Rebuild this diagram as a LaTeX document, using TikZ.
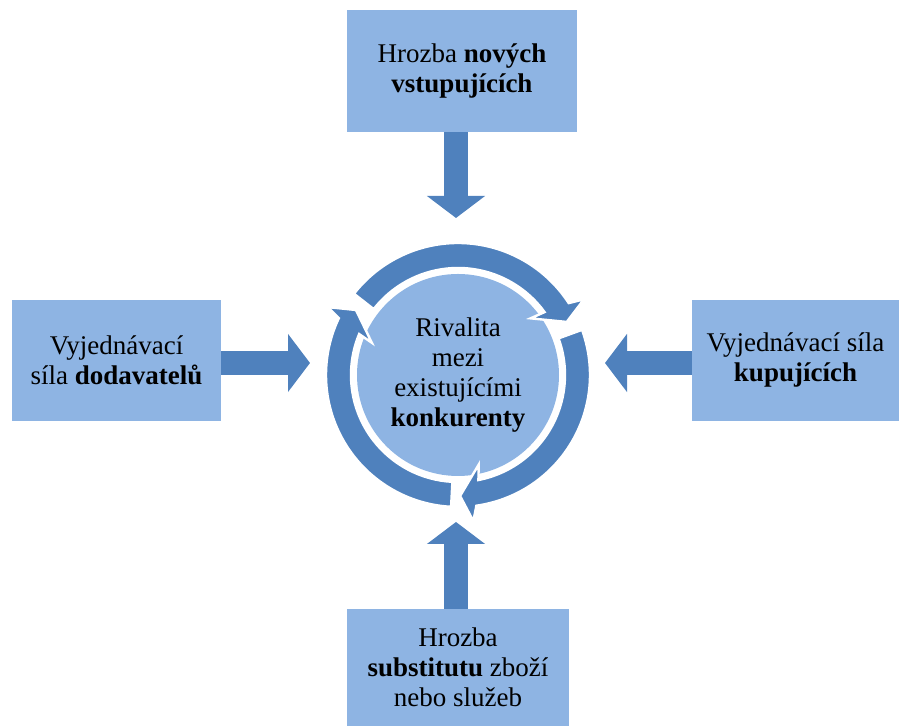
\documentclass[tikz,border=0pt]{standalone}
\usepackage{fontspec}
\setmainfont{Liberation Serif}
\usetikzlibrary{arrows.meta}
\definecolor{boxblue}{RGB}{142,180,227}
\definecolor{arrblue}{RGB}{79,129,189}

\begin{document}
\begin{tikzpicture}[x=0.5pt,y=0.5pt,
  box/.style={fill=boxblue, align=center, inner sep=0pt, font=\fontsize{13.5}{15}\selectfont},
  force/.style={draw=arrblue, line width=12pt, -{Triangle[length=11pt,width=28.5pt]}},
  ringarrow/.style={fill=arrblue, draw=white, line width=1.2pt, line join=miter}]
\useasboundingbox (0,0) rectangle (902,726);

\node[box, minimum width=115pt, minimum height=61pt] (vstup) at (462,655) {Hrozba \textbf{nových}\\\textbf{vstupujících}};
\node[box, minimum width=104.5pt, minimum height=60.5pt] (dodav) at (116.5,365.5) {Vyjednávací\\síla \textbf{dodavatelů}};
\node[box, minimum width=103.5pt, minimum height=60.5pt] (kupuj) at (795.5,365.5) {Vyjednávací síla\\\textbf{kupujících}};
\node[box, minimum width=111pt, minimum height=58.5pt] (subst) at (458,58.5) {Hrozba\\\textbf{substitutu} zboží\\nebo služeb};
\node[box, circle, minimum size=101pt] (rival) at (458,351) {Rivalita\\mezi\\existujícími\\\textbf{konkurenty}};

\begin{scope}[shift={(rival.center)}]
\foreach \a/\t in {142/26, 20/-89, -93/-212.5}
  \filldraw[ringarrow] (\a:132) arc[start angle=\a, end angle=\t+7, radius=132]
    -- (\t+5:147) -- (\t:121) -- (\t+12:92) -- (\t+10:107)
    arc[start angle=\t+10, end angle=\a, radius=107] -- cycle;
\end{scope}

\coordinate (ntip) at (456,508);
\coordinate (stip) at (456,204);
\coordinate (wtip) at (310,363);
\coordinate (etip) at (605,363);
\draw[force] (vstup.south -| ntip) -- (ntip);
\draw[force] (subst.north -| stip) -- (stip);
\draw[force] (dodav.east |- wtip) -- (wtip);
\draw[force] (kupuj.west |- etip) -- (etip);
\end{tikzpicture}
\end{document}
